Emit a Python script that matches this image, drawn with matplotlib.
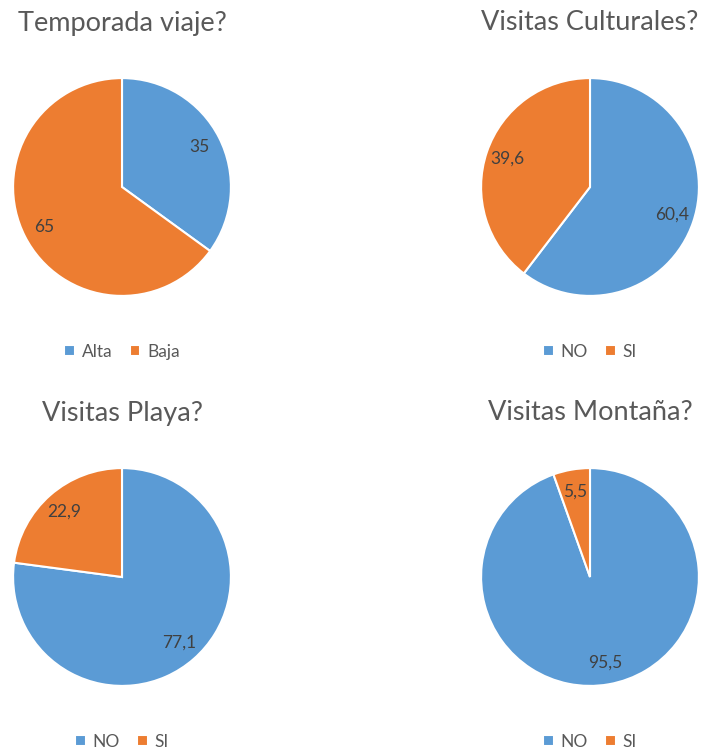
import matplotlib
matplotlib.use("Agg")
import matplotlib.pyplot as plt

plt.rcParams['font.family'] = ['Lato', 'DejaVu Sans']

# data
titles = ['Temporada viaje?', 'Visitas Culturales?', 'Visitas Playa?', 'Visitas Montaña?']
labels = [['Alta', 'Baja'], ['NO', 'SI'], ['NO', 'SI'], ['NO', 'SI']]
values = [[35, 65], [60.4, 39.6], [77.1, 22.9], [95.5, 5.5]]

colors = ['#5B9BD5', '#ED7D31']
W, H = 702, 754

fig = plt.figure(figsize=(W / 100, H / 100), dpi=100)

# pie centres in pixels (x, y from top) and radius
centres = [(122, 187), (590, 187), (122, 577), (590, 577)]
R = 110

for i in range(4):
    cx, cy = centres[i]
    ax = fig.add_axes([(cx - R) / W, (H - cy - R) / H, 2 * R / W, 2 * R / H])
    vals = values[i]
    txt = [('%g' % v).replace('.', ',') for v in vals]
    wedges, texts = ax.pie(vals, colors=colors, startangle=90, counterclock=False,
                           labels=txt, labeldistance=0.8,
                           wedgeprops=dict(edgecolor='white', linewidth=1.5),
                           textprops=dict(color='#404040', fontsize=12.5))
    for t in texts:
        t.set_horizontalalignment('center')
        t.set_verticalalignment('center')
    ax.set_xlim(-1.01, 1.01)
    ax.set_ylim(-1.01, 1.01)
    ax.set_aspect('equal')
    ax.axis('off')
    fig.text(cx / W, 1 - (cy - 164) / H, titles[i], ha='center', va='center',
             fontsize=19.5, color='#595959')
    ax.legend(wedges, labels[i], loc='center', bbox_to_anchor=(0.5, -0.25),
              ncol=2, frameon=False, handlelength=0.6, handleheight=0.6,
              handletextpad=0.4, columnspacing=1.0, fontsize=12.5,
              labelcolor='#595959')

fig.savefig('out.png', dpi=100)
